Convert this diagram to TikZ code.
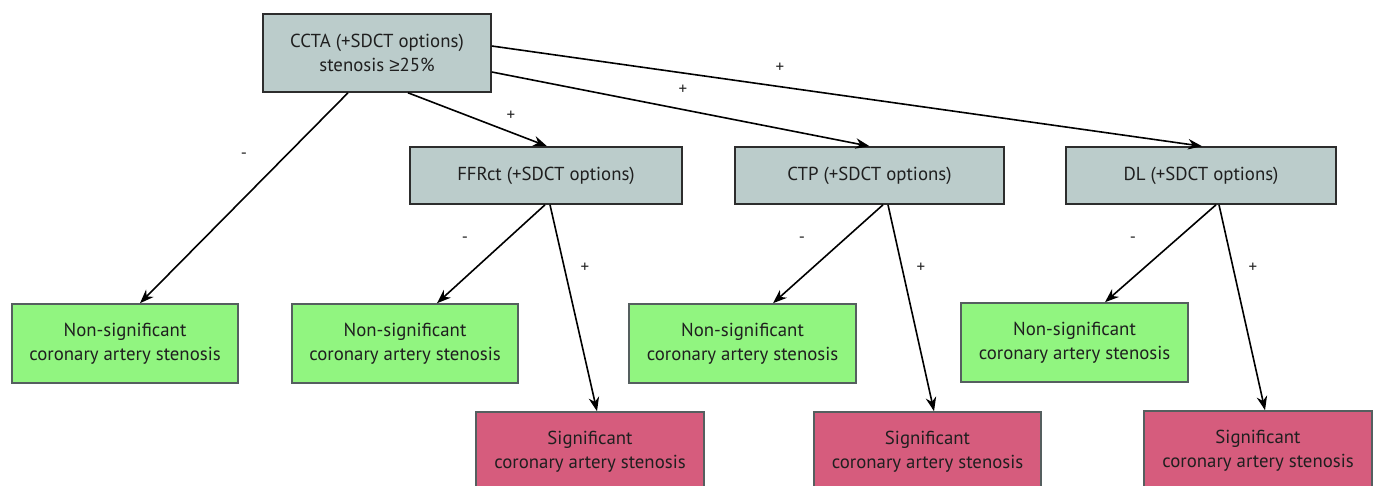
\documentclass[tikz,border=0pt]{standalone}
\usepackage{fontspec}
\setmainfont{PT Sans}
\newfontfamily\symfont{Liberation Sans}
\usetikzlibrary{arrows.meta}
\definecolor{boxgray}{RGB}{187,204,203}
\definecolor{boxgreen}{RGB}{145,245,128}
\definecolor{boxred}{RGB}{214,92,125}
\definecolor{edgedark}{RGB}{45,45,45}
\definecolor{edgegray}{RGB}{85,95,95}
\tikzset{
  base/.style={rectangle, line width=1.6pt, align=center, font=\fontsize{18.8}{23.5}\selectfont, text=black!88, inner sep=0pt},
  graybox/.style={base, fill=boxgray, draw=edgedark},
  greenbox/.style={base, fill=boxgreen, draw=edgegray, minimum width=226pt, minimum height=79pt},
  redbox/.style={base, fill=boxred, draw=edgegray, minimum width=228pt, minimum height=79pt},
  arr/.style={-{Stealth[length=14pt,width=10.5pt]}, line width=1.6pt, black},
  sign/.style={font=\fontsize{17}{18}\selectfont, text=black!85}
}
\begin{document}
\begin{tikzpicture}[x=1pt,y=-1pt]
\useasboundingbox (0,0) rectangle (1378,485);
\clip (0,0) rectangle (1378,485);
\node[graybox, minimum width=228pt, minimum height=78pt] (ccta) at (377,53) {CCTA (+SDCT options)\\stenosis {\symfont ≥}25\%};
\node[graybox, minimum width=272pt, minimum height=57pt] (ffr) at (546,175.5) {FFRct (+SDCT options)};
\node[graybox, minimum width=269pt, minimum height=57pt] (ctp) at (869.5,175.5) {CTP (+SDCT options)};
\node[graybox, minimum width=270pt, minimum height=57pt] (dl) at (1201,175.5) {DL (+SDCT options)};
\node[greenbox] (g1) at (125,343.5) {Non-significant\\coronary artery stenosis};
\node[greenbox] (g2) at (405,343.5) {Non-significant\\coronary artery stenosis};
\node[greenbox, minimum width=227pt] (g3) at (742.5,343.5) {Non-significant\\coronary artery stenosis};
\node[greenbox, minimum width=227pt] (g4) at (1074.5,342.5) {Non-significant\\coronary artery stenosis};
\node[redbox] (r1) at (590,451.5) {Significant\\coronary artery stenosis};
\node[redbox, minimum width=227pt] (r2) at (927.5,451.5) {Significant\\coronary artery stenosis};
\node[redbox] (r3) at (1258,450.5) {Significant\\coronary artery stenosis};
\draw[arr] ([xshift=-29pt]ccta.south) -- ([xshift=15pt]g1.north);
\draw[arr] ([xshift=31pt]ccta.south) -- ([xshift=1pt]ffr.north);
\draw[arr] ([yshift=-19pt]ccta.east) -- (ctp.north);
\draw[arr] ([yshift=7pt]ccta.east) -- ([xshift=1pt]dl.north);
\draw[arr] ([xshift=-1pt]ffr.south) -- ([xshift=32pt]g2.north);
\draw[arr] ([xshift=4pt]ffr.south) -- ([xshift=7pt]r1.north);
\draw[arr] ([xshift=13.5pt]ctp.south) -- ([xshift=30.5pt]g3.north);
\draw[arr] ([xshift=18.5pt]ctp.south) -- ([xshift=6.5pt]r2.north);
\draw[arr] ([xshift=15pt]dl.south) -- ([xshift=30.5pt]g4.north);
\draw[arr] ([xshift=18pt]dl.south) -- ([xshift=7pt]r3.north);
\node[sign] (s1) at (244,156) {-};
\node[sign] (s2) at (511,116) {+};
\node[sign] (s3) at (683,90) {+};
\node[sign] (s4) at (780,68) {+};
\node[sign] (s5) at (465,240) {-};
\node[sign] (s6) at (585,268) {+};
\node[sign] (s7) at (802,240) {-};
\node[sign] (s8) at (921,268) {+};
\node[sign] (s9) at (1133,240) {-};
\node[sign] (s10) at (1253,268) {+};
\end{tikzpicture}
\end{document}
